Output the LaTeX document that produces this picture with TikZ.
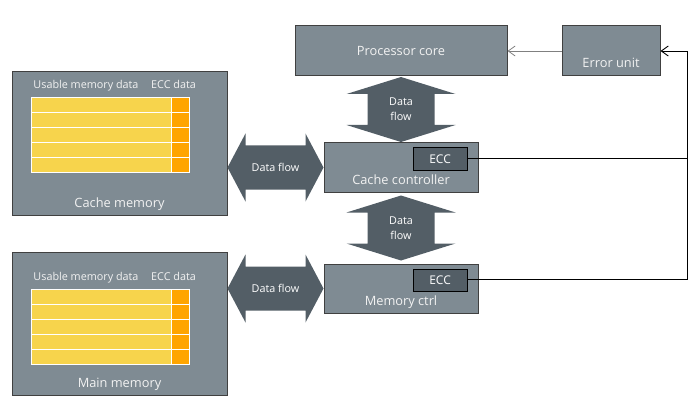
\documentclass[tikz,border=0pt]{standalone}
\usepackage{fontspec}
\setmainfont{Open Sans}
\usepackage{tikz}
\usetikzlibrary{positioning, calc, arrows.meta, backgrounds}
\definecolor{boxgray}{HTML}{7F8B93}
\definecolor{boxline}{HTML}{404040}
\definecolor{flowgray}{HTML}{535E66}
\definecolor{boxtext}{HTML}{F2F2F2}
\definecolor{cellyellow}{HTML}{F7D44C}
\definecolor{cellorange}{HTML}{FFA500}
\definecolor{warngray}{HTML}{808080}

\begin{document}
\begin{tikzpicture}[x=1pt, y=-1pt,
    big/.style={font=\fontsize{12.8}{15}\selectfont},
    small/.style={font=\fontsize{10.8}{15}\selectfont},
    box/.style={draw=boxline, line width=1pt, fill=boxgray, text=boxtext, inner sep=0pt, big},
    low/.style={label={[big, text=boxtext, inner sep=0pt, anchor=base, yshift=8.5pt]south:#1}},
    ecc/.style={draw=black, line width=0.8pt, fill=flowgray, text=white, inner sep=0pt,
      minimum width=54pt, minimum height=22pt, font=\fontsize{12}{14}\selectfont},
    lbl/.style={small, text=boxtext, inner sep=0pt, anchor=base},
    cell/.style={draw=white, line width=0.8pt},
    sig/.style={draw=black, line width=0.9pt},
    warn/.style={draw=warngray, line width=0.8pt},
    tip/.style={-{Straight Barb[length=7pt, width=10pt]}},
    flowtxt/.style={small, text=white, align=center, inner sep=0pt},
    hflow/.pic={
      \fill[flowgray] (-48,0) -- (-30,-34) -- (-30,-22) -- (30,-22) -- (30,-34) -- (48,0)
        -- (30,34) -- (30,22) -- (-30,22) -- (-30,34) -- cycle;
      \node[flowtxt] (-t) {#1};
    },
    vflow/.pic={
      \fill[flowgray] (0,-32.5) -- (54.5,-15.5) -- (33.5,-15.5) -- (33.5,15.5) -- (54.5,15.5)
        -- (0,32.5) -- (-54.5,15.5) -- (-33.5,15.5) -- (-33.5,-15.5) -- (-54.5,-15.5) -- cycle;
      \node[flowtxt] (-t) {#1};
    }]
  \useasboundingbox (0,0) rectangle (692,414);

  \node[box, minimum width=212pt, minimum height=50pt] (core) at (401,51) {Processor core};
  \node[box, minimum width=98pt, minimum height=50pt, low=Error unit, right=54pt of core] (err) {};
  \node[box, minimum width=154pt, minimum height=49pt, low=Cache controller, below=66pt of core] (cc) {};
  \node[box, minimum width=154pt, minimum height=49pt, low=Memory ctrl, below=71pt of cc] (mc) {};
  \node[ecc, below left=5pt and 11pt of cc.north east] (ecc1) {ECC};
  \node[ecc, below left=5pt and 11pt of mc.north east] (ecc2) {ECC};

  \node[box, minimum width=215pt, minimum height=143pt, low=Cache memory] (cm) at (119.5,143.5) {};
  \node[box, minimum width=215pt, minimum height=143pt, low=Main memory] (mm) at (119.5,323.5) {};

  \foreach \m/\t in {cm/26, mm/38} {
    \node[lbl] (\m-use) at ($(\m.north west)+(74.5,\t-9)$) {Usable memory data};
    \node[lbl] (\m-ecc) at ($(\m.north west)+(162,\t-9)$) {ECC data};
    \foreach \r in {0,...,4} {
      \draw[cell, fill=cellyellow] ($(\m.north west)+(20,\t+15*\r)$) rectangle ++(140,15);
      \draw[cell, fill=cellorange] ($(\m.north west)+(160,\t+15*\r)$) rectangle ++(18,15);
    }
  }

  \pic (fa) at ($(cm.east |- cc)!.5!(cc.west)$) {hflow=Data flow};
  \pic (fb) at ($(mm.east |- mc)!.5!(mc.west)$) {hflow=Data flow};
  \pic (fc) at ($(core.south)!.5!(cc.north)$) {vflow={Data\\flow}};
  \pic (fd) at ($(cc.south)!.5!(mc.north)$) {vflow={Data\\flow}};

  \coordinate[right=27pt of err.east] (tap);
  \draw[warn, tip] (err.west) -- (core.east);
  \draw[sig, tip] (ecc1.east) -| (tap) -- (err.east);
  \draw[sig] (ecc2.east) -| (ecc1.east -| tap);
\end{tikzpicture}
\end{document}
